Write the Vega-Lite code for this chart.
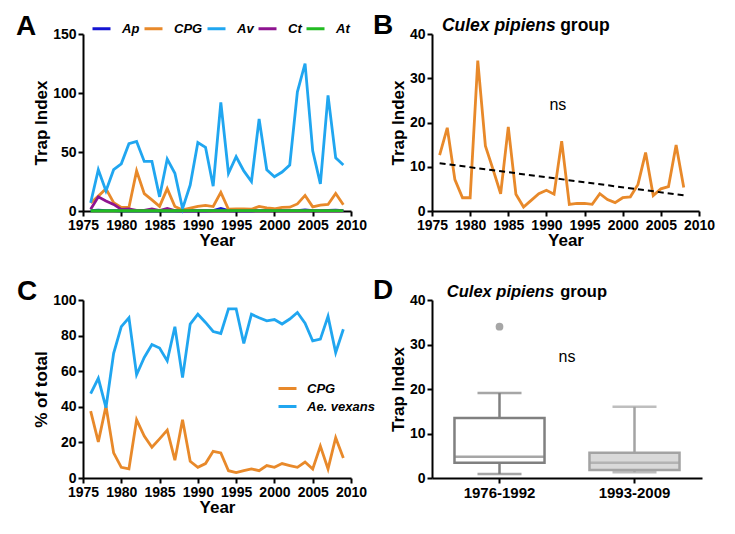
{
  "$schema": "https://vega.github.io/schema/vega-lite/v6.json",
  "padding": {"left": 16, "top": 11, "right": 5, "bottom": 5},
  "background": "white",
  "config": {
    "font": "Liberation Sans",
    "view": {"stroke": null},
    "axis": {
      "domainColor": "black", "domainWidth": 2, "tickColor": "black", "tickWidth": 2, "tickSize": 5,
      "labelFont": "Liberation Sans", "labelFontSize": 14, "labelFontWeight": "bold", "labelColor": "black",
      "titleFont": "Liberation Sans", "titleFontSize": 17, "titleFontWeight": "bold", "titleColor": "black",
      "grid": false, "labelPadding": 2, "labelFlush": false, "labelOverlap": false
    },
    "axisY": {"titlePadding": 2},
    "axisX": {"titlePadding": 0},
    "title": {"anchor": "start", "frame": "group", "fontSize": 28, "fontWeight": "bold", "color": "black", "baseline": "alphabetic", "offset": 0, "font": "Liberation Sans"},
    "legend": {"labelFont": "Liberation Sans", "labelFontSize": 13, "labelFontWeight": "bold", "labelFontStyle": "italic", "labelColor": "black", "symbolType": "stroke", "symbolStrokeWidth": 3, "symbolSize": 324, "labelOffset": 10}
  },
  "datasets": {
    "a": [
      {"year": 1976, "Ap": 0.3, "CPG": 6.8, "Av": 7, "Ct": 1.4, "At": 0.2, "pCPG": 37.6, "pAv": 47.4},
      {"year": 1977, "Ap": 0.8, "CPG": 12.6, "Av": 35, "Ct": 12, "At": 0.2, "pCPG": 20.3, "pAv": 56},
      {"year": 1978, "Ap": 0.3, "CPG": 18.8, "Av": 17, "Ct": 8.5, "At": 0.2, "pCPG": 40.4, "pAv": 39.5},
      {"year": 1979, "Ap": 0.3, "CPG": 7.1, "Av": 35, "Ct": 5.6, "At": 0.2, "pCPG": 14.1, "pAv": 70},
      {"year": 1980, "Ap": 0.2, "CPG": 3.0, "Av": 40, "Ct": 1.4, "At": 0.2, "pCPG": 6.0, "pAv": 85},
      {"year": 1981, "Ap": 0.2, "CPG": 3.0, "Av": 57, "Ct": 1.8, "At": 0.2, "pCPG": 5.1, "pAv": 90},
      {"year": 1982, "Ap": 0.2, "CPG": 34, "Av": 59, "Ct": 0.6, "At": 0.2, "pCPG": 32.7, "pAv": 58},
      {"year": 1983, "Ap": 0.2, "CPG": 14.7, "Av": 42, "Ct": 0.5, "At": 0.2, "pCPG": 23.5, "pAv": 67.7},
      {"year": 1984, "Ap": 0.2, "CPG": 9.4, "Av": 42, "Ct": 1.8, "At": 0.2, "pCPG": 17.3, "pAv": 75},
      {"year": 1985, "Ap": 0.2, "CPG": 3.9, "Av": 12, "Ct": 0.3, "At": 0.2, "pCPG": 22, "pAv": 73},
      {"year": 1986, "Ap": 0.2, "CPG": 19, "Av": 44, "Ct": 2.2, "At": 0.2, "pCPG": 26.9, "pAv": 65.8},
      {"year": 1987, "Ap": 0.2, "CPG": 3.8, "Av": 32, "Ct": 0.3, "At": 0.2, "pCPG": 10, "pAv": 85},
      {"year": 1988, "Ap": 0.1, "CPG": 0.9, "Av": 2, "Ct": 0.1, "At": 0.3, "pCPG": 32.7, "pAv": 56.4},
      {"year": 1989, "Ap": 0.2, "CPG": 2.4, "Av": 22, "Ct": 0.1, "At": 0.4, "pCPG": 9.4, "pAv": 86.5},
      {"year": 1990, "Ap": 0.2, "CPG": 3.9, "Av": 58, "Ct": 0.1, "At": 0.4, "pCPG": 6, "pAv": 92},
      {"year": 1991, "Ap": 0.2, "CPG": 4.7, "Av": 54, "Ct": 0.1, "At": 0.4, "pCPG": 8.1, "pAv": 87.4},
      {"year": 1992, "Ap": 0.3, "CPG": 3.8, "Av": 21, "Ct": 0.1, "At": 0.4, "pCPG": 15, "pAv": 82.3},
      {"year": 1993, "Ap": 2.2, "CPG": 15.8, "Av": 92, "Ct": 0.1, "At": 0.4, "pCPG": 14.1, "pAv": 81.2},
      {"year": 1994, "Ap": 0.3, "CPG": 1.5, "Av": 32, "Ct": 0.1, "At": 0.4, "pCPG": 4.1, "pAv": 95},
      {"year": 1995, "Ap": 0.2, "CPG": 1.7, "Av": 46, "Ct": 0.1, "At": 0.4, "pCPG": 3.0, "pAv": 95},
      {"year": 1996, "Ap": 0.2, "CPG": 1.7, "Av": 34, "Ct": 0.1, "At": 0.4, "pCPG": 4.1, "pAv": 75.6},
      {"year": 1997, "Ap": 0.2, "CPG": 1.5, "Av": 25, "Ct": 0.1, "At": 0.4, "pCPG": 5.1, "pAv": 92},
      {"year": 1998, "Ap": 0.3, "CPG": 3.9, "Av": 78, "Ct": 0.1, "At": 0.4, "pCPG": 4.1, "pAv": 90},
      {"year": 1999, "Ap": 0.3, "CPG": 2.6, "Av": 35, "Ct": 0.1, "At": 0.4, "pCPG": 7, "pAv": 88.3},
      {"year": 2000, "Ap": 0.5, "CPG": 1.9, "Av": 29, "Ct": 0.1, "At": 0.4, "pCPG": 6, "pAv": 89},
      {"year": 2001, "Ap": 0.3, "CPG": 3.0, "Av": 33, "Ct": 0.1, "At": 0.4, "pCPG": 8.1, "pAv": 86.5},
      {"year": 2002, "Ap": 0.3, "CPG": 3.2, "Av": 39, "Ct": 0.1, "At": 0.4, "pCPG": 7, "pAv": 89.3},
      {"year": 2003, "Ap": 0.3, "CPG": 6.0, "Av": 101, "Ct": 0.1, "At": 0.4, "pCPG": 6, "pAv": 93},
      {"year": 2004, "Ap": 1.0, "CPG": 13.2, "Av": 125, "Ct": 0.1, "At": 0.4, "pCPG": 9, "pAv": 87},
      {"year": 2005, "Ap": 0.3, "CPG": 3.5, "Av": 51, "Ct": 0.1, "At": 0.4, "pCPG": 5.1, "pAv": 77},
      {"year": 2006, "Ap": 0.3, "CPG": 5.0, "Av": 23, "Ct": 0.1, "At": 0.4, "pCPG": 17.9, "pAv": 78},
      {"year": 2007, "Ap": 0.5, "CPG": 5.5, "Av": 98, "Ct": 0.1, "At": 0.4, "pCPG": 5.1, "pAv": 90.8},
      {"year": 2008, "Ap": 0.8, "CPG": 14.9, "Av": 45, "Ct": 0.1, "At": 0.4, "pCPG": 22.6, "pAv": 70.5},
      {"year": 2009, "Ap": 0.3, "CPG": 5.3, "Av": 39, "Ct": 0.1, "At": 0.4, "pCPG": 11.3, "pAv": 83.6}
    ],
    "b": [
      {"year": 1976, "cpg": 12.6}, {"year": 1977, "cpg": 18.8}, {"year": 1978, "cpg": 7.1},
      {"year": 1979, "cpg": 3.0}, {"year": 1980, "cpg": 3.0}, {"year": 1981, "cpg": 34},
      {"year": 1982, "cpg": 14.7}, {"year": 1983, "cpg": 9.4}, {"year": 1984, "cpg": 3.9},
      {"year": 1985, "cpg": 19}, {"year": 1986, "cpg": 3.8}, {"year": 1987, "cpg": 0.9},
      {"year": 1988, "cpg": 2.4}, {"year": 1989, "cpg": 3.9}, {"year": 1990, "cpg": 4.7},
      {"year": 1991, "cpg": 3.8}, {"year": 1992, "cpg": 15.8}, {"year": 1993, "cpg": 1.5},
      {"year": 1994, "cpg": 1.7}, {"year": 1995, "cpg": 1.7}, {"year": 1996, "cpg": 1.5},
      {"year": 1997, "cpg": 3.9}, {"year": 1998, "cpg": 2.6}, {"year": 1999, "cpg": 1.9},
      {"year": 2000, "cpg": 3.0}, {"year": 2001, "cpg": 3.2}, {"year": 2002, "cpg": 6.0},
      {"year": 2003, "cpg": 13.2}, {"year": 2004, "cpg": 3.5}, {"year": 2005, "cpg": 5.0},
      {"year": 2006, "cpg": 5.5}, {"year": 2007, "cpg": 14.9}, {"year": 2008, "cpg": 5.3}
    ],
    "trend": [{"year": 1976, "fit": 10.8}, {"year": 2008, "fit": 3.55}],
    "box": [
      {"period": "1976-1992", "lower": 0.9, "q1": 3.4, "median": 4.8, "q3": 13.5, "upper": 19.1},
      {"period": "1993-2009", "lower": 1.3, "q1": 1.8, "median": 3.4, "q3": 5.7, "upper": 16.0}
    ],
    "outlier": [{"period": "1976-1992", "value": 34}]
  },
  "columns": 2,
  "spacing": {"row": 89, "column": 81},
  "bounds": "flush",
  "resolve": {
    "scale": {"x": "independent", "y": "independent", "color": "independent", "fill": "independent", "stroke": "independent"},
    "legend": {"color": "independent", "fill": "independent", "stroke": "independent"}
  },
  "concat": [
    {
      "width": 268, "height": 177,
      "title": {"text": "A", "dx": -67, "dy": 27},
      "data": {"name": "a"},
      "transform": [{"fold": ["Ap", "CPG", "Av", "Ct", "At"], "as": ["species", "value"]}],
      "mark": {"type": "line", "strokeWidth": 2.8},
      "encoding": {
        "x": {"field": "year", "type": "quantitative", "scale": {"domain": [1975, 2010], "nice": false, "zero": false},
              "axis": {"values": [1975, 1980, 1985, 1990, 1995, 2000, 2005, 2010], "format": "d", "title": "Year", "labelOverlap": false}},
        "y": {"field": "value", "type": "quantitative", "scale": {"domain": [0, 150], "nice": false},
              "axis": {"values": [0, 50, 100, 150], "title": "Trap Index"}},
        "color": {"field": "species", "type": "nominal",
                  "scale": {"domain": ["Ap", "CPG", "Av", "Ct", "At"], "range": ["#1414d2", "#e8892a", "#20a6f0", "#8e1490", "#22bb22"]},
                  "legend": {"orient": "none", "legendX": 8, "legendY": -16, "direction": "horizontal", "title": null, "columnPadding": -2}}
      }
    },
    {
      "width": 267, "height": 177,
      "title": {"text": "B", "dx": -59, "dy": 27},
      "encoding": {
        "x": {"field": "year", "type": "quantitative", "scale": {"domain": [1975, 2010], "nice": false, "zero": false},
              "axis": {"values": [1975, 1980, 1985, 1990, 1995, 2000, 2005, 2010], "format": "d", "title": "Year", "labelOverlap": false}}
      },
      "layer": [
        {
          "data": {"name": "b"},
          "mark": {"type": "line", "strokeWidth": 2.8, "color": "#e8892a"},
          "encoding": {
            "y": {"field": "cpg", "type": "quantitative", "scale": {"domain": [0, 40], "nice": false},
                  "axis": {"values": [0, 10, 20, 30, 40], "title": "Trap Index"}}
          }
        },
        {
          "data": {"name": "trend"},
          "mark": {"type": "line", "strokeWidth": 2, "color": "black", "strokeDash": [6, 4]},
          "encoding": {
            "y": {"field": "fit", "type": "quantitative"}
          }
        },
        {
          "data": {"values": [{"year": 1991.5, "y": 24, "label": "ns"}]},
          "mark": {"type": "text", "fontSize": 16, "align": "center", "baseline": "middle", "color": "black"},
          "encoding": {
            "y": {"field": "y", "type": "quantitative"},
            "text": {"field": "label"}
          }
        },
        {
          "data": {"values": [{"year": 1976.3, "y": 40.7, "label": "Culex pipiens"}]},
          "mark": {"type": "text", "fontSize": 17.5, "fontWeight": "bold", "fontStyle": "italic", "align": "left", "baseline": "alphabetic", "color": "black"},
          "encoding": {
            "y": {"field": "y", "type": "quantitative"},
            "text": {"field": "label"}
          }
        },
        {
          "data": {"values": [{"year": 1991.8, "y": 40.7, "label": "group"}]},
          "mark": {"type": "text", "fontSize": 17.5, "fontWeight": "bold", "align": "left", "baseline": "alphabetic", "color": "black"},
          "encoding": {
            "y": {"field": "y", "type": "quantitative"},
            "text": {"field": "label"}
          }
        }
      ]
    },
    {
      "width": 268, "height": 178,
      "title": {"text": "C", "dx": -66, "dy": 17},
      "data": {"name": "a"},
      "transform": [{"fold": ["pCPG", "pAv"], "as": ["species", "value"]}],
      "mark": {"type": "line", "strokeWidth": 2.8},
      "encoding": {
        "x": {"field": "year", "type": "quantitative", "scale": {"domain": [1975, 2010], "nice": false, "zero": false},
              "axis": {"values": [1975, 1980, 1985, 1990, 1995, 2000, 2005, 2010], "format": "d", "title": "Year", "labelOverlap": false}},
        "y": {"field": "value", "type": "quantitative", "scale": {"domain": [0, 100], "nice": false},
              "axis": {"values": [0, 20, 40, 60, 80, 100], "title": "% of total"}},
        "color": {"field": "species", "type": "nominal",
                  "scale": {"domain": ["pCPG", "pAv"], "range": ["#e8892a", "#20a6f0"]},
                  "legend": {"orient": "none", "legendX": 194, "legendY": 78, "direction": "vertical", "title": null, "rowPadding": -1, "labelOffset": 9,
                             "labelExpr": "datum.label == 'pCPG' ? 'CPG' : 'Ae. vexans'"}}
      }
    },
    {
      "width": 270, "height": 178,
      "title": {"text": "D", "dx": -59, "dy": 25},
      "resolve": {"scale": {"x": "independent"}},
      "layer": [
        {
          "encoding": {
            "x": {"field": "period", "type": "nominal", "sort": ["1976-1992", "1993-2009"],
                  "scale": {"domain": ["1976-1992", "1993-2009"], "paddingInner": 0, "paddingOuter": 0},
                  "axis": {"title": null, "labelAngle": 0, "labelFontSize": 15}}
          },
          "layer": [
            {
              "data": {"name": "box"},
              "mark": {"type": "rule", "strokeWidth": 2.5},
              "encoding": {
                "y": {"field": "lower", "type": "quantitative", "scale": {"domain": [0, 40], "nice": false},
                      "axis": {"values": [0, 10, 20, 30, 40], "title": "Trap Index"}},
                "y2": {"field": "upper"},
                "color": {"field": "period", "type": "nominal", "scale": {"domain": ["1976-1992", "1993-2009"], "range": ["#808080", "#a3a3a3"]}, "legend": null}
              }
            },
            {
              "data": {"name": "box"},
              "mark": {"type": "bar", "strokeWidth": 2.5, "width": {"band": 0.667}},
              "encoding": {
                "y": {"field": "q1", "type": "quantitative"},
                "y2": {"field": "q3"},
                "fill": {"field": "period", "type": "nominal", "scale": {"domain": ["1976-1992", "1993-2009"], "range": ["#ffffff", "#d9d9d9"]}, "legend": null},
                "stroke": {"field": "period", "type": "nominal", "scale": {"domain": ["1976-1992", "1993-2009"], "range": ["#808080", "#a3a3a3"]}, "legend": null}
              }
            },
            {
              "data": {"name": "box"},
              "mark": {"type": "tick", "size": 89, "thickness": 2.5},
              "encoding": {
                "y": {"field": "median", "type": "quantitative"},
                "color": {"field": "period", "type": "nominal", "legend": null}
              }
            },
            {
              "data": {"name": "box"},
              "mark": {"type": "tick", "size": 44, "thickness": 2.5},
              "encoding": {
                "y": {"field": "upper", "type": "quantitative"},
                "color": {"field": "period", "type": "nominal", "legend": null}
              }
            },
            {
              "data": {"name": "box"},
              "mark": {"type": "tick", "size": 44, "thickness": 2.5},
              "encoding": {
                "y": {"field": "lower", "type": "quantitative"},
                "color": {"field": "period", "type": "nominal", "legend": null}
              }
            },
            {
              "data": {"name": "outlier"},
              "mark": {"type": "point", "filled": true, "size": 60, "opacity": 1, "color": "#a6a6a6"},
              "encoding": {
                "y": {"field": "value", "type": "quantitative"}
              }
            }
          ]
        },
        {
          "encoding": {
            "x": {"field": "pos", "type": "quantitative", "scale": {"domain": [0, 2], "nice": false, "zero": false}, "axis": null}
          },
          "layer": [
            {
              "data": {"values": [{"pos": 1.0, "y": 27.2, "label": "ns"}]},
              "mark": {"type": "text", "fontSize": 16, "align": "center", "baseline": "middle", "color": "black"},
              "encoding": {"y": {"field": "y", "type": "quantitative"}, "text": {"field": "label"}}
            },
            {
              "data": {"values": [{"pos": 0.11, "y": 40.6, "label": "Culex pipiens"}]},
              "mark": {"type": "text", "fontSize": 16.5, "fontWeight": "bold", "fontStyle": "italic", "align": "left", "baseline": "alphabetic", "color": "black"},
              "encoding": {"y": {"field": "y", "type": "quantitative"}, "text": {"field": "label"}}
            },
            {
              "data": {"values": [{"pos": 0.95, "y": 40.6, "label": "group"}]},
              "mark": {"type": "text", "fontSize": 16.5, "fontWeight": "bold", "align": "left", "baseline": "alphabetic", "color": "black"},
              "encoding": {"y": {"field": "y", "type": "quantitative"}, "text": {"field": "label"}}
            }
          ]
        }
      ]
    }
  ]
}
